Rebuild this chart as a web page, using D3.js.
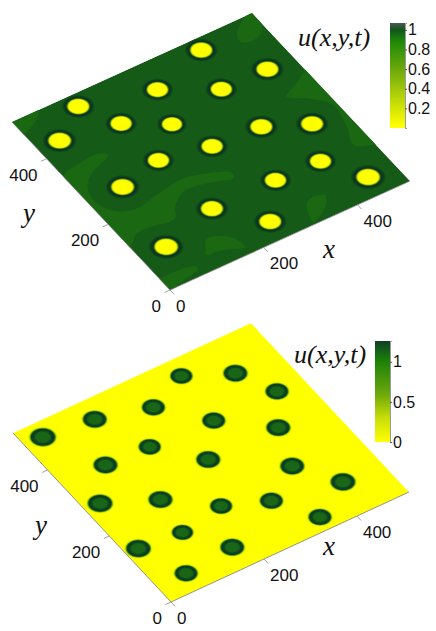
<!DOCTYPE html>
<html><head><meta charset="utf-8">
<style>html,body{margin:0;padding:0;background:#fff}svg{display:block}</style>
<script src="https://cdn.jsdelivr.net/npm/d3@7/dist/d3.min.js"></script></head>
<body><svg id="c" width="436" height="631"></svg>
<script>
const domainMax = 512;
const axisTicks = [0, 200, 400];
const topSpotX = [384,456,263,359,121,161,236,366,446,45,265,165,74,406,312,455,177,246,55];
const topSpotY = [482,377,440,379,481,403,352,260,217,426,266,288,266,129,132,49,133,49,96];
const topSpotR = [30,30,29,29,30,29,27.5,30,30,31,29,29,31,29,29,32,30,30,32];
const botSpotX = [333,418,455,247,142,319,406,39,186,256,373,94,427,128,32,210,293,343,115,26,169,63];
const botSpotY = [468,421,342,429,461,342,264,474,349,265,169,354,86,227,278,154,116,34,136,145,56,46];
const botSpotR = [25,27,26,26,27,26,27,29,25,27,27,27,28,27,28,25,26,26,24,28,27,26];
// Lighter contour bands of the top panel, in data units [x,y]
const patchA = [[461,483],[496,511],[530,530],[500,463],[469,452],[454,462]];
const patchB = [[446,300],[470,314],[492,326],[530,345],[530,110],[497,118],[478,132],[494,178],[504,237],[478,273]];
const patchC = [[60,530],[54,509],[42,495],[9,477],[-20,470],[-20,530]];
const patchD = [[7,351],[43,358],[85,361],[98,348],[80,339],[47,325],[22,301],[12,262],[29,222],[65,206],[114,216],[177,225],[219,213],[257,191],[252,177],[222,186],[180,198],[153,195],[125,173],[108,148],[59,154],[30,153],[6,133],[-3,129],[-30,200],[-30,300]];
const patchE = [[-10,30],[19,34],[50,33],[73,24],[70,16],[41,9],[14,0],[10,-15],[-15,-15]];
const patchF = [[124,72],[140,72],[156,63],[171,43],[172,18],[147,29],[124,37],[104,39],[112,55]];
const patchG = [[326,52],[345,60],[366,53],[358,37],[335,17],[309,5],[315,30]];
const patches = [patchA,patchB,patchC,patchD,patchE,patchF,patchG];
const topBarTicks = [0.2,0.4,0.6,0.8,1];
const botBarTicks = [0,0.5,1];
const topBarStops = [[0.02,"#ffff00"],[0.3,"#b8d608"],[0.6,"#6ca80c"],[0.88,"#1f8a08"],[1.0,"#12551a"],[1.07,"#4a5a50"]];
const botBarStops = [[0,"#ffff00"],[0.3,"#c8de08"],[0.6,"#6ca80c"],[1.02,"#1a8008"],[1.26,"#0f3f26"]];

const svg = d3.select("#c");
const defs = svg.append("defs");
function radial(id, stops){
  const g = defs.append("radialGradient").attr("id",id);
  stops.forEach(s=>g.append("stop").attr("offset",s[0]).attr("stop-color",s[1]));
}
radial("gTop",[[0,"#ffff00"],[0.55,"#ffff00"],[0.61,"#c4d80c"],[0.67,"#3f7a12"],[0.73,"#0b3320"],[0.84,"#0d3c1c"],[1,"#155a17"]]);
radial("gBot",[[0,"#196616"],[0.42,"#196616"],[0.58,"#0c3f20"],[0.71,"#0c3f20"],[0.78,"#5c9c12"],[0.85,"#d8ea04"],[0.93,"#ffff00"],[1,"#ffff00"]]);

function panel(o){
  const sx = d3.scaleLinear().domain([0,domainMax]).range([0,1]);
  const sy = d3.scaleLinear().domain([0,domainMax]).range([0,1]);
  const P = (x,y)=>[o.O[0]+sx(x)*o.X[0]+sy(y)*o.Y[0], o.O[1]+sx(x)*o.X[1]+sy(y)*o.Y[1]];
  const g = svg.append("g");
  const d = domainMax;
  const plate = [P(0,0),P(d,0),P(d,d),P(0,d)];
  const clipId = "clip"+o.id;
  defs.append("clipPath").attr("id",clipId).append("polygon").attr("points",plate.join(" "));
  const inner = g.append("g").attr("clip-path",`url(#${clipId})`);
  inner.append("polygon").attr("points",plate.join(" ")).attr("fill",o.base);
  const line = d3.line().curve(d3.curveCatmullRomClosed.alpha(0.5));
  (o.patches||[]).forEach(p=>{
    inner.append("path").attr("d",line(p.map(q=>P(q[0],q[1])))).attr("fill",o.patchFill);
  });
  const ux = o.X[0]/d, uxy = o.X[1]/d, vx = o.Y[0]/d, vy = o.Y[1]/d;
  inner.append("g").selectAll("circle").data(o.sx).join("circle")
    .attr("transform",(v,i)=>{const c=P(v,o.sy[i]);return `matrix(${ux},${uxy},${vx},${vy},${c[0]},${c[1]})`;})
    .attr("r",(v,i)=>o.sr[i]).attr("fill",`url(#${o.grad})`);
  g.append("path").attr("d",d3.line()([P(0,d),P(0,0),P(d,0)])).attr("fill","none").attr("stroke","#777").attr("stroke-width",0.8);
  const tick = 6;
  const sans = (x,y,anchor,t)=>g.append("text").attr("x",x).attr("y",y).attr("text-anchor",anchor).attr("font-family","Liberation Sans").attr("font-size",17).attr("fill","#111").text(t);
  axisTicks.forEach(t=>{
    const a=P(t,0), b=P(0,t);
    const n=Math.hypot(o.Y[0],o.Y[1]), m=Math.hypot(o.X[0],o.X[1]);
    g.append("line").attr("x1",a[0]).attr("y1",a[1]).attr("x2",a[0]-o.Y[0]/n*tick).attr("y2",a[1]-o.Y[1]/n*tick).attr("stroke","#888").attr("stroke-width",0.8);
    g.append("line").attr("x1",b[0]).attr("y1",b[1]).attr("x2",b[0]-o.X[0]/m*tick).attr("y2",b[1]-o.X[1]/m*tick).attr("stroke","#888").attr("stroke-width",0.8);
    sans(a[0]+6,a[1]+22,"start",t);
    sans(b[0]-9,b[1]+22,"end",t);
  });
  const serif = (x,y,s,t)=>g.append("text").attr("x",x).attr("y",y).attr("font-family","Liberation Serif").attr("font-style","italic").attr("font-size",s).attr("fill","#111").text(t);
  serif(o.xLab[0],o.xLab[1],27,"x");
  serif(o.yLab[0],o.yLab[1],27,"y");
  serif(o.title[0],o.title[1],o.title[2],"u(x,y,t)");
  const cb = o.bar;
  const cs = d3.scaleLinear().domain(cb.domain).range([cb.y1,cb.y0]);
  const gid="bar"+o.id;
  const lg = defs.append("linearGradient").attr("id",gid).attr("x1",0).attr("x2",0).attr("y1",1).attr("y2",0);
  cb.stops.forEach(s=>lg.append("stop").attr("offset",(s[0]-cb.domain[0])/(cb.domain[1]-cb.domain[0])).attr("stop-color",s[1]));
  g.append("rect").attr("x",cb.x).attr("y",cb.y0).attr("width",cb.w).attr("height",cb.y1-cb.y0).attr("fill",`url(#${gid})`);
  const ax = g.append("g").attr("transform",`translate(${cb.x+cb.w},0)`)
    .call(d3.axisRight(cs).tickValues(cb.ticks).tickSize(2).tickPadding(1).tickFormat(d3.format("~g")));
  ax.select(".domain").attr("stroke","#555").attr("stroke-width",0.6);
  ax.selectAll(".tick line").attr("stroke","#555");
  ax.selectAll("text").attr("font-family","Liberation Sans").attr("font-size",16).attr("fill","#111");
}
panel({id:"T",O:[170,290],X:[240,-109],Y:[-158,-168],base:"#155a17",patchFill:"#1b6813",patches,
  sx:topSpotX,sy:topSpotY,sr:topSpotR,grad:"gTop",
  xLab:[323,258],yLab:[23,222],title:[298,46,26],
  bar:{x:390,w:15,y0:23,y1:128,domain:[0.0,1.07],stops:topBarStops,ticks:topBarTicks}});
panel({id:"B",O:[171,602],X:[238,-110],Y:[-158,-169],base:"#ffff00",
  sx:botSpotX,sy:botSpotY,sr:botSpotR,grad:"gBot",
  xLab:[323,555],yLab:[35,534],title:[294,363,26],
  bar:{x:375,w:15,y0:341,y1:442,domain:[0,1.26],stops:botBarStops,ticks:botBarTicks}});
</script></body></html>
